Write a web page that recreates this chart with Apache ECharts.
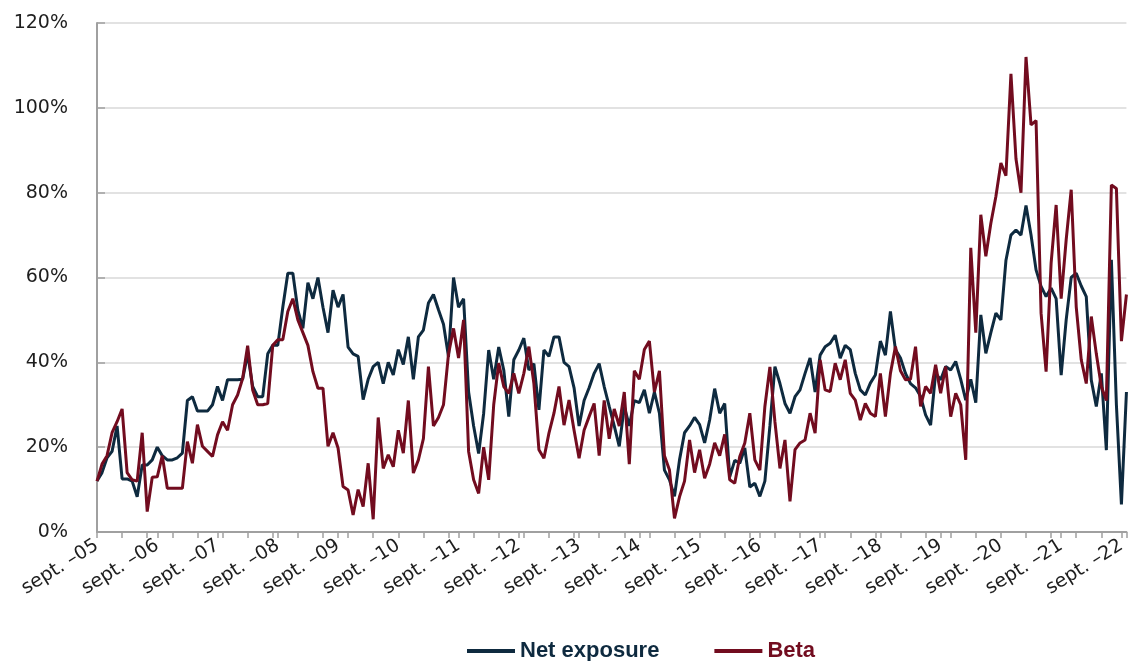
<!doctype html>
<html lang="en">
<head>
<meta charset="UTF-8">
<title>Net exposure / Beta</title>
<style>
html, body { margin: 0; padding: 0; background: #fff; }
#main { width: 1129px; height: 661px; }
</style>
</head>
<body>
<div id="main"></div>
<script src="https://cdn.jsdelivr.net/npm/echarts@6/dist/echarts.min.js"></script>
<script>
// monthly readings (%), sept. 2005 -> oct. 2022
var netExposure = [
    12, 14, 17.5, 19, 25, 12.5, 12.5, 12, 8.3, 15.8, 15.8, 17,
    20, 18, 17, 17, 17.5, 18.6, 31, 31.9, 28.5, 28.5, 28.5, 30,
    34.3, 31, 35.9, 35.9, 35.9, 36, 42, 34.3, 31.9, 31.9, 42, 44,
    44, 53, 61, 61, 52.3, 48, 58.8, 55, 60, 53, 47, 57,
    53, 56, 43.6, 42, 41.4, 31.2, 36, 39, 40, 35, 40, 37,
    43, 39.5, 46, 36, 46, 47.6, 54, 56, 52.4, 49, 41.3, 60,
    53, 55, 33, 25, 18.5, 28, 42.9, 36, 43.6, 38.2, 27.2, 40.6,
    42.9, 45.7, 38.2, 39.7, 28.8, 42.9, 41.4, 46, 46, 40, 39, 34,
    25, 31, 34, 37.4, 39.7, 34.3, 29.6, 25, 20.2, 29.6, 25, 31,
    30.5, 33.5, 28, 33, 28, 14.6, 12.3, 8.4, 17, 23.4, 25, 27,
    25.3, 21, 26.4, 33.8, 28, 30.3, 13, 16.9, 16.2, 19.8, 10.6, 11.5,
    8.4, 12, 25, 39, 35, 30.3, 28, 31.9, 33.5, 37.4, 41, 33,
    41.7, 43.7, 44.5, 46.4, 41, 44, 43, 37.4, 33.5, 32.3, 35.1, 37,
    45, 41.7, 52, 43, 41, 37.4, 35, 34, 32, 27.6, 25.2, 37.4,
    35.9, 39, 38.2, 40.2, 36, 31.1, 36, 30.5, 51.2, 42.1, 47, 51.6,
    50, 64, 70, 71.2, 70, 77, 70, 61.8, 57.9, 55.5, 57.5, 55,
    37, 50, 60, 61, 58, 55.5, 35.8, 29.6, 37.4, 19.3, 64.2, 30,
    6.5, 33
];
var beta = [
    12, 16, 18, 23.4, 26, 29, 14, 12.3, 12, 23.4, 4.8, 12.9,
    13, 18, 10.3, 10.3, 10.3, 10.3, 21.3, 16.2, 25.3, 20.2, 19, 17.8,
    22.9, 26, 24, 30, 32.3, 36.2, 43.9, 33.5, 30, 30, 30.3, 44,
    45.3, 45.3, 52, 55, 50, 47, 44, 37.8, 33.9, 33.9, 20.2, 23.4,
    19.8, 10.7, 9.9, 4, 10, 6, 16.2, 3, 27, 15, 18.2, 15.4,
    24, 18.6, 31, 13.9, 17, 22, 39, 25, 27, 30, 42, 48,
    41, 50, 19, 12.3, 9.1, 20, 12.3, 30, 39.8, 34.3, 32.7, 37.4,
    32.7, 37.4, 43.7, 35, 19.4, 17.4, 23.3, 28, 34.3, 25.2, 31.1, 24,
    17.4, 24, 27.2, 30.3, 18, 31, 22, 29, 25, 33, 16, 38,
    36, 43, 45, 33, 38, 18, 14.6, 3.2, 8.3, 12, 21.7, 14,
    19.4, 12.7, 16, 21, 18, 23, 12.3, 11.5, 17.8, 21, 28, 17,
    14.6, 29.6, 38.9, 26, 15, 21.7, 7.2, 19.4, 21, 21.7, 28, 23.3,
    40.6, 33.5, 33.1, 39.8, 35.9, 40.6, 32.7, 31.1, 26.4, 30.3, 28, 27.2,
    37.4, 27.2, 37.4, 43.7, 38, 35.9, 36, 43.7, 29.6, 34.3, 32.7, 39.4,
    32.7, 39, 27.2, 32.7, 30, 17, 67, 47, 74.8, 65, 72.8, 79.1,
    87, 84, 108, 88, 80, 112, 96, 97, 51.6, 37.8, 63.4, 77.1,
    55, 68.9, 80.7, 53.1, 40.6, 35, 50.8, 42, 34.3, 31, 81.8, 81,
    45, 56
];
var yTicks = [0, 20, 40, 60, 80, 100, 120];

var navy = '#0e2a3f';
var maroon = '#720c1f';
var axisGrey = '#a0a0a0';

// one category per month, sept. 2005 first
var months = [];
for (var i = 0; i < netExposure.length; i++) {
    var y = 2005 + Math.floor((8 + i) / 12);
    var mo = (8 + i) % 12;
    months.push(y + '-' + (mo + 1));
}
function yearLabel(v) {
    var p = v.split('-');
    return 'sept. \u2013' + p[0].slice(2);
}

var myChart = echarts.init(document.getElementById('main'));

var option = {
    animation: false,
    backgroundColor: '#fff',
    grid: {
        left: 97,
        right: 1,
        top: 23,
        bottom: 129
    },
    legend: {
        left: 462,
        top: 635,
        icon: 'rect',
        itemWidth: 48,
        itemHeight: 4,
        itemGap: 55,
        textStyle: {
            fontFamily: 'Liberation Sans',
            fontWeight: 'bold',
            fontSize: 22
        },
        data: [
            {name: 'Net exposure', textStyle: {color: navy}},
            {name: 'Beta', textStyle: {color: maroon}}
        ]
    },
    xAxis: {
        type: 'category',
        boundaryGap: false,
        data: months,
        axisLine: {lineStyle: {color: axisGrey, width: 2}},
        axisTick: {
            length: 6,
            lineStyle: {color: axisGrey, width: 1.5},
            interval: function (idx) { return idx % 12 === 0 || idx % 5 === 0; }
        },
        axisLabel: {
            interval: function (idx) { return idx % 12 === 0; },
            formatter: yearLabel,
            rotate: 32,
            margin: 12,
            fontFamily: 'DejaVu Sans',
            fontSize: 19,
            color: '#1e1e1e'
        },
        splitLine: {show: false}
    },
    yAxis: {
        type: 'value',
        min: yTicks[0],
        max: yTicks[yTicks.length - 1],
        interval: 20,
        axisLine: {show: true, lineStyle: {color: axisGrey, width: 2}},
        axisTick: {show: true, inside: true, length: 8, lineStyle: {color: axisGrey, width: 1.5}},
        axisLabel: {
            formatter: '{value}%',
            margin: 29,
            fontFamily: 'DejaVu Sans',
            fontSize: 19,
            color: '#1e1e1e'
        },
        splitLine: {lineStyle: {color: '#d9d9d9', width: 1.5}}
    },
    series: [
        {
            name: 'Net exposure',
            type: 'line',
            data: netExposure,
            showSymbol: false,
            itemStyle: {color: navy},
            lineStyle: {color: navy, width: 3}
        },
        {
            name: 'Beta',
            type: 'line',
            data: beta,
            showSymbol: false,
            itemStyle: {color: maroon},
            lineStyle: {color: maroon, width: 3}
        }
    ]
};

myChart.setOption(option);
</script>
</body>
</html>
